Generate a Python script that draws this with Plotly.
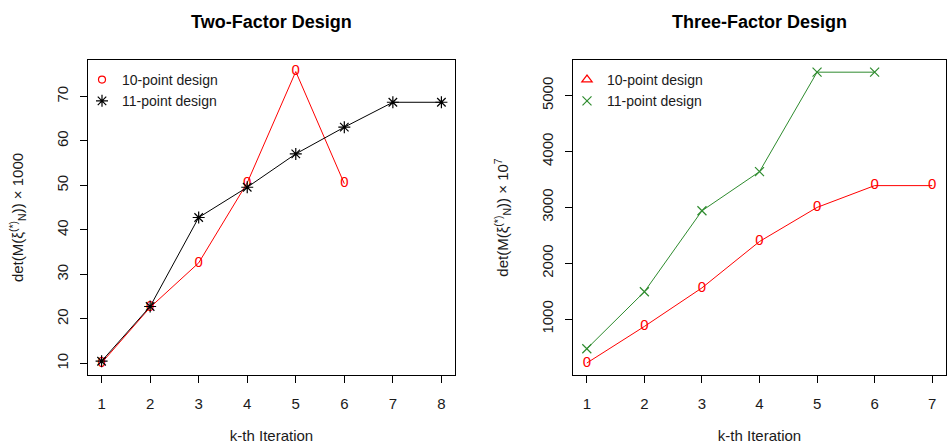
import plotly.graph_objects as go

# Iterations
iter_two = [1, 2, 3, 4, 5, 6, 7, 8]
iter_three = [1, 2, 3, 4, 5, 6, 7]

# Two-factor design: det(M) x 1000
two_10pt_x = [1, 2, 3, 4, 5, 6]
two_10pt = [10.1, 22.6, 32.6, 50.6, 75.6, 50.4]
two_11pt_x = [1, 2, 3, 4, 5, 6, 7, 8]
two_11pt = [10.5, 22.8, 42.8, 49.6, 57.1, 63.1, 68.7, 68.7]

# Three-factor design: det(M) x 10^7
three_10pt_x = [1, 2, 3, 4, 5, 6, 7]
three_10pt = [215, 870, 1560, 2390, 3000, 3390, 3390]
three_11pt_x = [1, 2, 3, 4, 5, 6]
three_11pt = [470, 1490, 2940, 3640, 5420, 5420]

RED = "#ff0000"
GREEN = "#2e8b2e"
BLACK = "#000000"
TXT = "#1a1a1a"
FONT = "Liberation Sans, Arial, sans-serif"

W, H = 948, 444


def px_x(p):
    return p / W


def px_y(p):
    return (H - p) / H


fig = go.Figure()

# Left panel: two-factor design
fig.add_trace(go.Scatter(
    x=two_10pt_x, y=two_10pt, mode="lines+text", text=["0"] * len(two_10pt),
    textposition="middle center", textfont=dict(color=RED, size=15, family=FONT),
    line=dict(color=RED, width=1), showlegend=False, xaxis="x", yaxis="y"))
fig.add_trace(go.Scatter(
    x=two_11pt_x, y=two_11pt, mode="lines+markers",
    marker=dict(symbol="asterisk-open", size=10, color=BLACK, line=dict(width=1.2, color=BLACK)),
    line=dict(color=BLACK, width=1), showlegend=False, xaxis="x", yaxis="y"))
fig.add_trace(go.Scatter(
    x=[None], y=[None], mode="markers", name="10-point design",
    marker=dict(symbol="circle-open", size=7, color=RED, line=dict(width=1.2, color=RED)),
    legend="legend", xaxis="x", yaxis="y"))
fig.add_trace(go.Scatter(
    x=[None], y=[None], mode="markers", name="11-point design",
    marker=dict(symbol="asterisk-open", size=10, color=BLACK, line=dict(width=1.2, color=BLACK)),
    legend="legend", xaxis="x", yaxis="y"))

# Right panel: three-factor design
fig.add_trace(go.Scatter(
    x=three_10pt_x, y=three_10pt, mode="lines+text", text=["0"] * len(three_10pt),
    textposition="middle center", textfont=dict(color=RED, size=15, family=FONT),
    line=dict(color=RED, width=1), showlegend=False, xaxis="x2", yaxis="y2"))
fig.add_trace(go.Scatter(
    x=three_11pt_x, y=three_11pt, mode="lines+markers",
    marker=dict(symbol="x-thin-open", size=9, color=GREEN, line=dict(width=1.2, color=GREEN)),
    line=dict(color=GREEN, width=1), showlegend=False, xaxis="x2", yaxis="y2"))
fig.add_trace(go.Scatter(
    x=[None], y=[None], mode="markers", name="10-point design",
    marker=dict(symbol="triangle-up-open", size=9, color=RED, line=dict(width=1.2, color=RED)),
    legend="legend2", xaxis="x2", yaxis="y2"))
fig.add_trace(go.Scatter(
    x=[None], y=[None], mode="markers", name="11-point design",
    marker=dict(symbol="x-thin-open", size=9, color=GREEN, line=dict(width=1.2, color=GREEN)),
    legend="legend2", xaxis="x2", yaxis="y2"))

axis_common = dict(
    showgrid=False, zeroline=False, showline=True, mirror=True, automargin=False,
    linecolor=BLACK, linewidth=1, ticks="outside", ticklen=7, tickwidth=1,
    tickcolor=BLACK, tickfont=dict(family=FONT, size=15, color=TXT),
)

y_dom = [px_y(375), px_y(60)]

fig.update_layout(
    width=W, height=H,
    margin=dict(l=0, r=0, t=0, b=0),
    paper_bgcolor="white", plot_bgcolor="white",
    font=dict(family=FONT, size=15, color=TXT),
    xaxis=dict(axis_common, domain=[px_x(88), px_x(455)], range=[0.72, 8.28],
               tickvals=iter_two, anchor="y", ticklabelstandoff=8,
               title=dict(text="k-th Iteration", standoff=35, font=dict(size=15))),
    yaxis=dict(axis_common, domain=y_dom, range=[7.4, 78.2], tickvals=[10, 20, 30, 40, 50, 60, 70],
               tickangle=-90, anchor="x", ticklabelstandoff=6,
               title=dict(text="det(M(ξ<sup>(*)</sup><sub>N</sub>)) × 1000", standoff=26,
                          font=dict(size=15))),
    xaxis2=dict(axis_common, domain=[px_x(573), px_x(946)], range=[0.76, 7.24],
                tickvals=iter_three, anchor="y2", ticklabelstandoff=8,
                title=dict(text="k-th Iteration", standoff=35, font=dict(size=15))),
    yaxis2=dict(axis_common, domain=y_dom, range=[1, 5638], tickvals=[1000, 2000, 3000, 4000, 5000],
                tickangle=-90, anchor="x2", ticklabelstandoff=6,
                title=dict(text="det(M(ξ<sup>(*)</sup><sub>N</sub>)) × 10<sup>7</sup>", standoff=26,
                           font=dict(size=15))),
    legend=dict(x=px_x(82), y=px_y(64), xanchor="left", yanchor="top",
                bgcolor="rgba(0,0,0,0)", borderwidth=0, tracegroupgap=0,
                font=dict(size=14, family=FONT, color=TXT)),
    legend2=dict(x=px_x(567), y=px_y(64), xanchor="left", yanchor="top",
                 bgcolor="rgba(0,0,0,0)", borderwidth=0, tracegroupgap=0,
                 font=dict(size=14, family=FONT, color=TXT)),
    annotations=[
        dict(text="<b>Two-Factor Design</b>", x=px_x(271.5), y=px_y(22), xref="paper", yref="paper",
             showarrow=False, xanchor="center", yanchor="middle",
             font=dict(size=18, family=FONT, color=BLACK)),
        dict(text="<b>Three-Factor Design</b>", x=px_x(759.5), y=px_y(22), xref="paper", yref="paper",
             showarrow=False, xanchor="center", yanchor="middle",
             font=dict(size=18, family=FONT, color=BLACK)),
    ],
)

fig.write_html("out.html")
